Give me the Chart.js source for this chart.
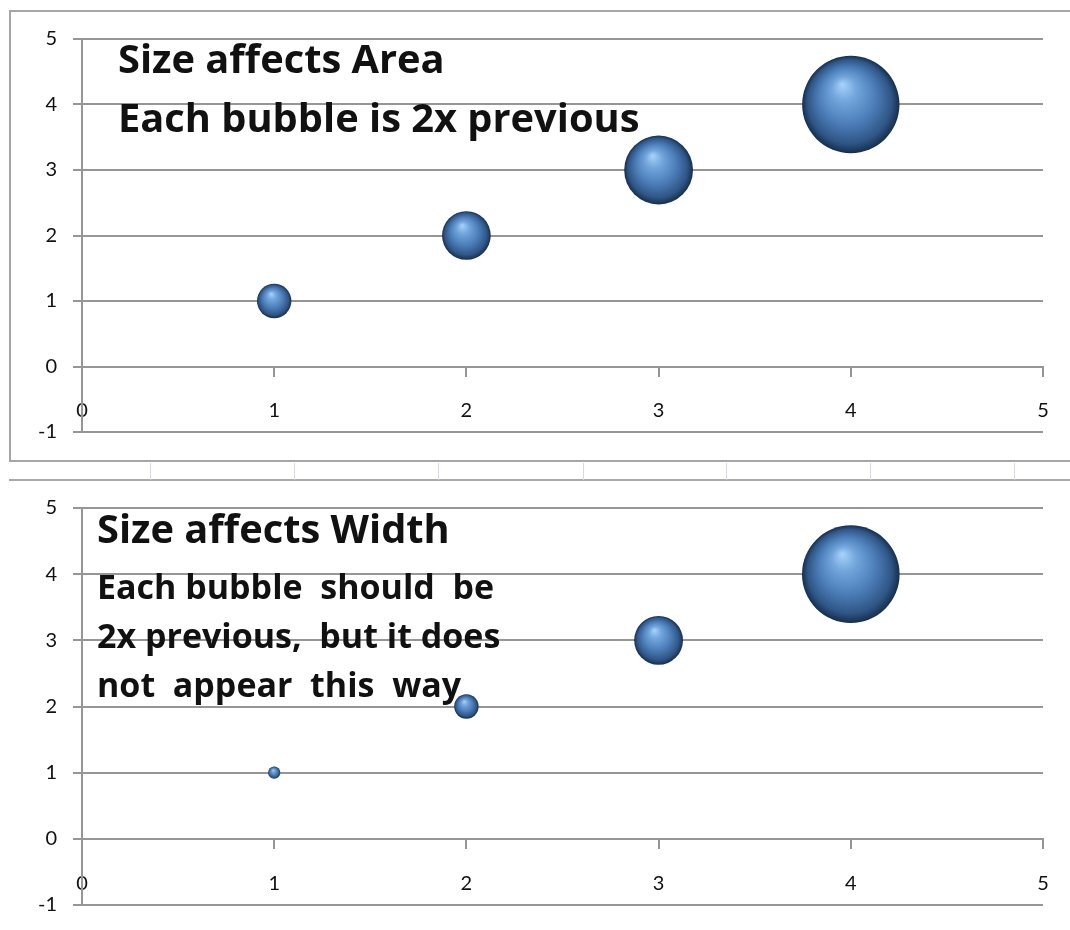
<!DOCTYPE html>
<html>
<head>
<meta charset="utf-8">
<title>Bubble size: area vs width</title>
<script src="https://cdn.jsdelivr.net/npm/chart.js@4/dist/chart.umd.min.js"></script>
<style>
  html, body { margin: 0; padding: 0; background: #fff; }
  #page { position: relative; width: 1070px; height: 930px; overflow: hidden; background: #fff; }
  .frame { position: absolute; left: 9px; top: 10px; width: 1065px; height: 452px;
           border: 2px solid #a6a6a6; border-right: none; box-sizing: border-box; }
  .rowline { position: absolute; left: 9px; width: 1061px; height: 2px; background: #a9a9a9; }
  .colline { position: absolute; width: 1px; background: #d3dae6; }
  .box { position: absolute; left: 0; width: 1070px; }
  .note { position: absolute; white-space: pre; font-family: "Open Sans", Lato, sans-serif;
          font-weight: 700; color: #111; line-height: 1.2; }
</style>
</head>
<body>
<div id="page">
  <div class="frame"></div>
  <div class="rowline" style="top:479px"></div>
  <div class="box" style="top:0;height:462px"><canvas id="areaChart" width="1070" height="462"></canvas></div>
  <div class="box" style="top:482px;height:448px"><canvas id="widthChart" width="1070" height="448"></canvas></div>
</div>
<script>
// Bubble data: one point per step, each bubble's size doubles the previous one
const xValues = [1, 2, 3, 4];
const yValues = [1, 2, 3, 4];
const bubbleSizes = [1, 2, 4, 8];

// Axis tick labels
const xTickLabels = ['0', '1', '2', '3', '4', '5'];
const yTickLabels = ['-1', '0', '1', '2', '3', '4', '5'];

// Text boxes inside each chart
const areaNote = ['Size affects Area', 'Each bubble is 2x previous'];
const widthNote = ['Size affects Width', 'Each bubble  should  be', '2x previous,  but it does', 'not  appear  this  way'];

// Spreadsheet column boundaries visible between the two charts
const sheetColumns = [150, 294, 438, 583, 726, 870, 1014];

const page = document.getElementById('page');
sheetColumns.forEach(x => {
  const d = document.createElement('div');
  d.className = 'colline';
  d.style.left = x + 'px'; d.style.top = '463px'; d.style.height = '17px';
  page.appendChild(d);
});

function addNote(text, left, baseline, size) {
  const d = document.createElement('div');
  d.className = 'note';
  d.textContent = text;
  d.style.left = left + 'px';
  d.style.fontSize = size + 'px';
  d.style.top = (baseline - 0.988 * size) + 'px';
  page.appendChild(d);
}
addNote(areaNote[0], 118, 73, 39.8);
addNote(areaNote[1], 118, 132, 39.8);
addNote(widthNote[0], 97, 543, 39.8);
addNote(widthNote[1], 97, 600, 34);
addNote(widthNote[2], 97, 649, 34);
addNote(widthNote[3], 97, 698, 34);

Chart.defaults.font.family = 'Lato, "Open Sans", sans-serif';
Chart.defaults.color = '#111';

const GRID = '#969696';

// Bubble radius in pixels from the size value
const radiusRules = {
  area: s => 17.2 * Math.sqrt(s),   // size proportional to area
  width: s => 6.1 * s                // size proportional to diameter
};

// Glossy sphere fill: radial gradient placed on each bubble through the scales
function sphereFill(rule) {
  return (c) => {
    const chart = c.chart;
    if (!c.raw || !chart.scales.x || !chart.chartArea) return '#4f81bd';
    const cx = chart.scales.x.getPixelForValue(c.raw.x);
    const cy = chart.scales.y.getPixelForValue(c.raw.y);
    const r = rule(c.raw.size);
    const g = chart.ctx.createRadialGradient(cx - 0.18 * r, cy - 0.42 * r, 0, cx, cy, r);
    g.addColorStop(0, '#a9d4fa');
    g.addColorStop(0.25, '#72a6dc');
    g.addColorStop(0.6, '#4a7bb6');
    g.addColorStop(0.86, '#2f5686');
    g.addColorStop(1, '#162e4e');
    return g;
  };
}

// The x axis sits on y = 0 inside the plot, so it reserves no layout space
function noSpace(s) {
  s.height = 0;
  s.paddingTop = 0; s.paddingBottom = 0; s.paddingLeft = 0; s.paddingRight = 0;
}

function makeChart(id, rule, padTop, padBottom, labelPad) {
  const points = xValues.map((x, i) => ({ x: x, y: yValues[i], size: bubbleSizes[i] }));
  return new Chart(document.getElementById(id), {
    type: 'bubble',
    data: {
      datasets: [{
        data: points,
        backgroundColor: sphereFill(rule),
        borderWidth: 0,
        radius: c => (c.raw ? rule(c.raw.size) : 0),
        hoverRadius: 0
      }]
    },
    options: {
      responsive: false,
      animation: false,
      events: [],
      layout: { autoPadding: false, padding: { left: 0, right: 27, top: padTop, bottom: padBottom } },
      plugins: { legend: { display: false }, tooltip: { enabled: false } },
      scales: {
        x: {
          type: 'linear',
          position: { y: 0 },
          min: 0, max: 5,
          afterFit: noSpace,
          grid: { drawOnChartArea: false, drawTicks: true, tickLength: 9, color: GRID, lineWidth: 2 },
          border: { display: true, color: GRID, width: 2 },
          ticks: {
            stepSize: 1, padding: labelPad, font: { size: 20 },
            callback: (v, i) => xTickLabels[i]
          }
        },
        y: {
          type: 'linear',
          min: -1, max: 5,
          afterFit: s => { s.width = 82; s.paddingTop = 0; s.paddingBottom = 0; },
          grid: { drawTicks: true, tickLength: 9, color: GRID, lineWidth: 2 },
          border: { display: true, color: GRID, width: 2 },
          ticks: {
            stepSize: 1, padding: 16, font: { size: 20 },
            callback: (v, i) => yTickLabels[i]
          }
        }
      }
    }
  });
}

makeChart('areaChart', radiusRules.area, 39, 30, 23);
makeChart('widthChart', radiusRules.width, 26, 25, 24);
</script>
</body>
</html>
